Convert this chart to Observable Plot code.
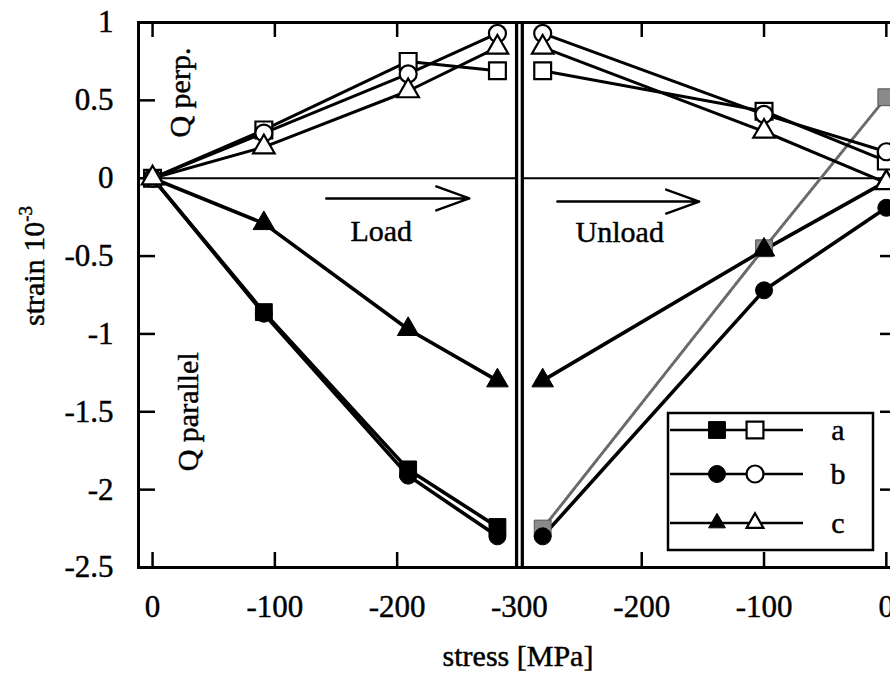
<!DOCTYPE html>
<html><head><meta charset="utf-8">
<script src="https://cdn.jsdelivr.net/npm/d3@7"></script>
<script src="https://cdn.jsdelivr.net/npm/@observablehq/plot@0.6"></script>
<style>
html,body{margin:0;padding:0;background:#fff;overflow:hidden;width:890px;height:675px}
#chart svg{max-width:none !important;}
#chart svg text{stroke:black;stroke-width:0.45px;}
</style>
</head><body><div id="chart"></div>
<script>
// ---- data ----
const loadStress   = [0, -91, -209, -282];
const unloadStress = [-281, -100, 0];
// Q parallel (filled markers)
const aParLoad   = [0, -0.86, -1.87, -2.24];
const bParLoad   = [0, -0.87, -1.91, -2.30];
const cParLoad   = [0, -0.29, -0.97, -1.30];
const aParUnload = [-2.25, -0.45, 0.52];
const bParUnload = [-2.30, -0.72, -0.19];
const cParUnload = [-1.30, -0.46, -0.02];
// Q perp (open markers)
const aPerpLoad   = [0, 0.31, 0.75, 0.69];
const bPerpLoad   = [0, 0.29, 0.67, 0.93];
const cPerpLoad   = [0, 0.20, 0.56, 0.84];
const aPerpUnload = [0.69, 0.43, 0.11];
const bPerpUnload = [0.93, 0.41, 0.17];
const cPerpUnload = [0.84, 0.30, -0.03];

const xTickPos    = [0, 100, 200, 300, 400, 500, 600];
const xTickLabels = ["0", "-100", "-200", "-300", "-200", "-100", "0"];
const yTicks      = [1, 0.5, 0, -0.5, -1, -1.5, -2, -2.5];
const yTickLabels = ["1", "0.5", "0", "-0.5", "-1", "-1.5", "-2", "-2.5"];
const seriesNames = ["a", "b", "c"];
const seriesSymbols = ["square", "circle", "triangle"];

// annotations (data coordinates)
const phaseLabels = ["Load", "Unload"];
const phaseLabelX = [187, 382];
const phaseLabelY = [-0.34, -0.35];
const arrowX1 = [142, 331];
const arrowX2 = [259, 447];
const arrowY  = [-0.13, -0.15];
const regionLabels = ["Q perp.", "Q parallel"];
const regionLabelX = [23, 29];
const regionLabelY = [0.55, -1.5];

// ---- build table ----
const rows = [];
function add(series, kind, phase, stresses, values) {
  stresses.forEach((s, i) => rows.push({
    series, kind, phase, key: series + "-" + kind + "-" + phase,
    pos: phase === "load" ? -s : 600 + s, strain: values[i]
  }));
}
add("a", "par", "load", loadStress, aParLoad);
add("b", "par", "load", loadStress, bParLoad);
add("c", "par", "load", loadStress, cParLoad);
add("a", "par", "unload", unloadStress, aParUnload);
add("b", "par", "unload", unloadStress, bParUnload);
add("c", "par", "unload", unloadStress, cParUnload);
add("a", "perp", "load", loadStress, aPerpLoad);
add("b", "perp", "load", loadStress, bPerpLoad);
add("c", "perp", "load", loadStress, cPerpLoad);
add("a", "perp", "unload", unloadStress, aPerpUnload);
add("b", "perp", "unload", unloadStress, bPerpUnload);
add("c", "perp", "unload", unloadStress, cPerpUnload);

const grayKey = "a-par-unload";
const symR = {square: 9.5, circle: 8.5, triangle: 8};

const W = 900, H = 675, mL = 138, mT = 22, mB = 108, mR = 5;
const innerW = W - mL - mR, innerH = H - mT - mB;
const FS = 30;

const markerMarks = [];
markerMarks.push(Plot.dot(rows.filter(d => d.key === grayKey), {x: "pos", y: "strain", symbol: "square", r: symR.square, fill: "#8a8a8a", stroke: "#555", strokeWidth: 1}));
seriesNames.forEach((s, i) => {
  const sym = seriesSymbols[i];
  markerMarks.push(Plot.dot(rows.filter(d => d.series === s && d.kind === "par" && d.key !== grayKey), {x: "pos", y: "strain", symbol: sym, r: symR[sym], fill: "black", stroke: "black", strokeWidth: 1}));
});
seriesNames.forEach((s, i) => {
  const sym = seriesSymbols[i];
  markerMarks.push(Plot.dot(rows.filter(d => d.series === s && d.kind === "perp"), {x: "pos", y: "strain", symbol: sym, r: symR[sym], fill: "white", stroke: "black", strokeWidth: 2.2}));
});

const chart = Plot.plot({
  width: W, height: H,
  marginLeft: mL, marginTop: mT, marginBottom: mB, marginRight: mR,
  style: {fontFamily: "'Liberation Serif', 'Times New Roman', serif", background: "white", color: "black", maxWidth: "none"},
  x: {domain: [-11.5, 607.5]},
  y: {domain: [-2.5, 1]},
  marks: [
    Plot.ruleY([0], {strokeWidth: 2}),
    // inward ticks
    Plot.tickX(xTickPos, {x: d => d, insetTop: innerH - 15, strokeWidth: 2.5}),
    Plot.tickX(xTickPos, {x: d => d, insetBottom: innerH - 15, strokeWidth: 2.5}),
    Plot.tickY(yTicks.slice(1, -1), {y: d => d, insetRight: innerW - 17, strokeWidth: 2.5}),
    Plot.tickY(yTicks.slice(1, -1), {y: d => d, insetLeft: innerW - 15, strokeWidth: 2.5}),
    // divider between load and unload
    Plot.ruleX([300], {strokeWidth: 9}),
    Plot.ruleX([300], {stroke: "white", strokeWidth: 2.5}),
    // lines
    Plot.line(rows.filter(d => d.kind === "par" && d.key !== grayKey), {x: "pos", y: "strain", z: "key", stroke: "black", strokeWidth: 3.6}),
    Plot.line(rows.filter(d => d.key === grayKey), {x: "pos", y: "strain", stroke: "#6a6a6a", strokeWidth: 3, strokeDasharray: "3,1.5"}),
    Plot.line(rows.filter(d => d.kind === "perp"), {x: "pos", y: "strain", z: "key", stroke: "black", strokeWidth: 3}),
    ...markerMarks,
    // annotations
    Plot.arrow(phaseLabels, {x1: (d, i) => arrowX1[i], x2: (d, i) => arrowX2[i], y1: (d, i) => arrowY[i], y2: (d, i) => arrowY[i], stroke: "black", strokeWidth: 2.4, headLength: 22, headAngle: 40}),
    Plot.text(phaseLabels, {x: (d, i) => phaseLabelX[i], y: (d, i) => phaseLabelY[i], text: d => d, fontSize: FS, fill: "black"}),
    Plot.text(regionLabels, {x: (d, i) => regionLabelX[i], y: (d, i) => regionLabelY[i], text: d => d, rotate: -90, fontSize: FS, fill: "black"}),
    Plot.frame({strokeWidth: 3}),
    // axes labels
    Plot.axisX(xTickPos, {anchor: "bottom", tickSize: 0, tickPadding: 27, fontSize: 31, label: null,
      tickFormat: d => xTickLabels[xTickPos.indexOf(d)]}),
    Plot.axisY(yTicks, {anchor: "left", tickSize: 0, tickPadding: 25, fontSize: 31, label: null,
      tickFormat: d => yTickLabels[yTicks.indexOf(d)]})
  ]
});
chart.style.maxWidth = "none";
document.getElementById("chart").appendChild(chart);

// ---- axis titles and legend (overlay) ----
const svg = d3.select(chart);
const serif = "'Liberation Serif', 'Times New Roman', serif";
const yl = svg.append("text")
  .attr("transform", "translate(44,266) rotate(-90)")
  .attr("text-anchor", "middle").attr("font-size", FS).attr("font-family", serif).attr("fill", "black");
yl.append("tspan").text("strain 10");
yl.append("tspan").attr("dy", -12).attr("font-size", 19).text("-3");
svg.append("text").attr("x", 518).attr("y", 666).attr("text-anchor", "middle")
  .attr("font-size", FS).attr("font-family", serif).attr("fill", "black").text("stress [MPa]");

const lg = svg.append("g");
lg.append("rect").attr("x", 668).attr("y", 413).attr("width", 205).attr("height", 137)
  .attr("fill", "white").attr("stroke", "black").attr("stroke-width", 2.5);
const rowY = [430, 474, 523];
const symMap = {square: d3.symbolSquare, circle: d3.symbolCircle, triangle: d3.symbolTriangle2};
seriesNames.forEach((s, i) => {
  const y = rowY[i], sym = seriesSymbols[i], r = symR[sym];
  lg.append("line").attr("x1", 670).attr("x2", 803).attr("y1", y).attr("y2", y)
    .attr("stroke", "black").attr("stroke-width", 2.4);
  const path = d3.symbol(symMap[sym], Math.PI * r * r)();
  lg.append("path").attr("d", path).attr("transform", `translate(717,${y})`)
    .attr("fill", "black").attr("stroke", "black");
  lg.append("path").attr("d", path).attr("transform", `translate(755,${y})`)
    .attr("fill", "white").attr("stroke", "black").attr("stroke-width", 2.2);
  lg.append("text").attr("x", 838).attr("y", y).attr("dy", "0.32em").attr("text-anchor", "middle")
    .attr("font-size", FS).attr("font-family", serif).attr("fill", "black").text(s);
});
</script></body></html>
